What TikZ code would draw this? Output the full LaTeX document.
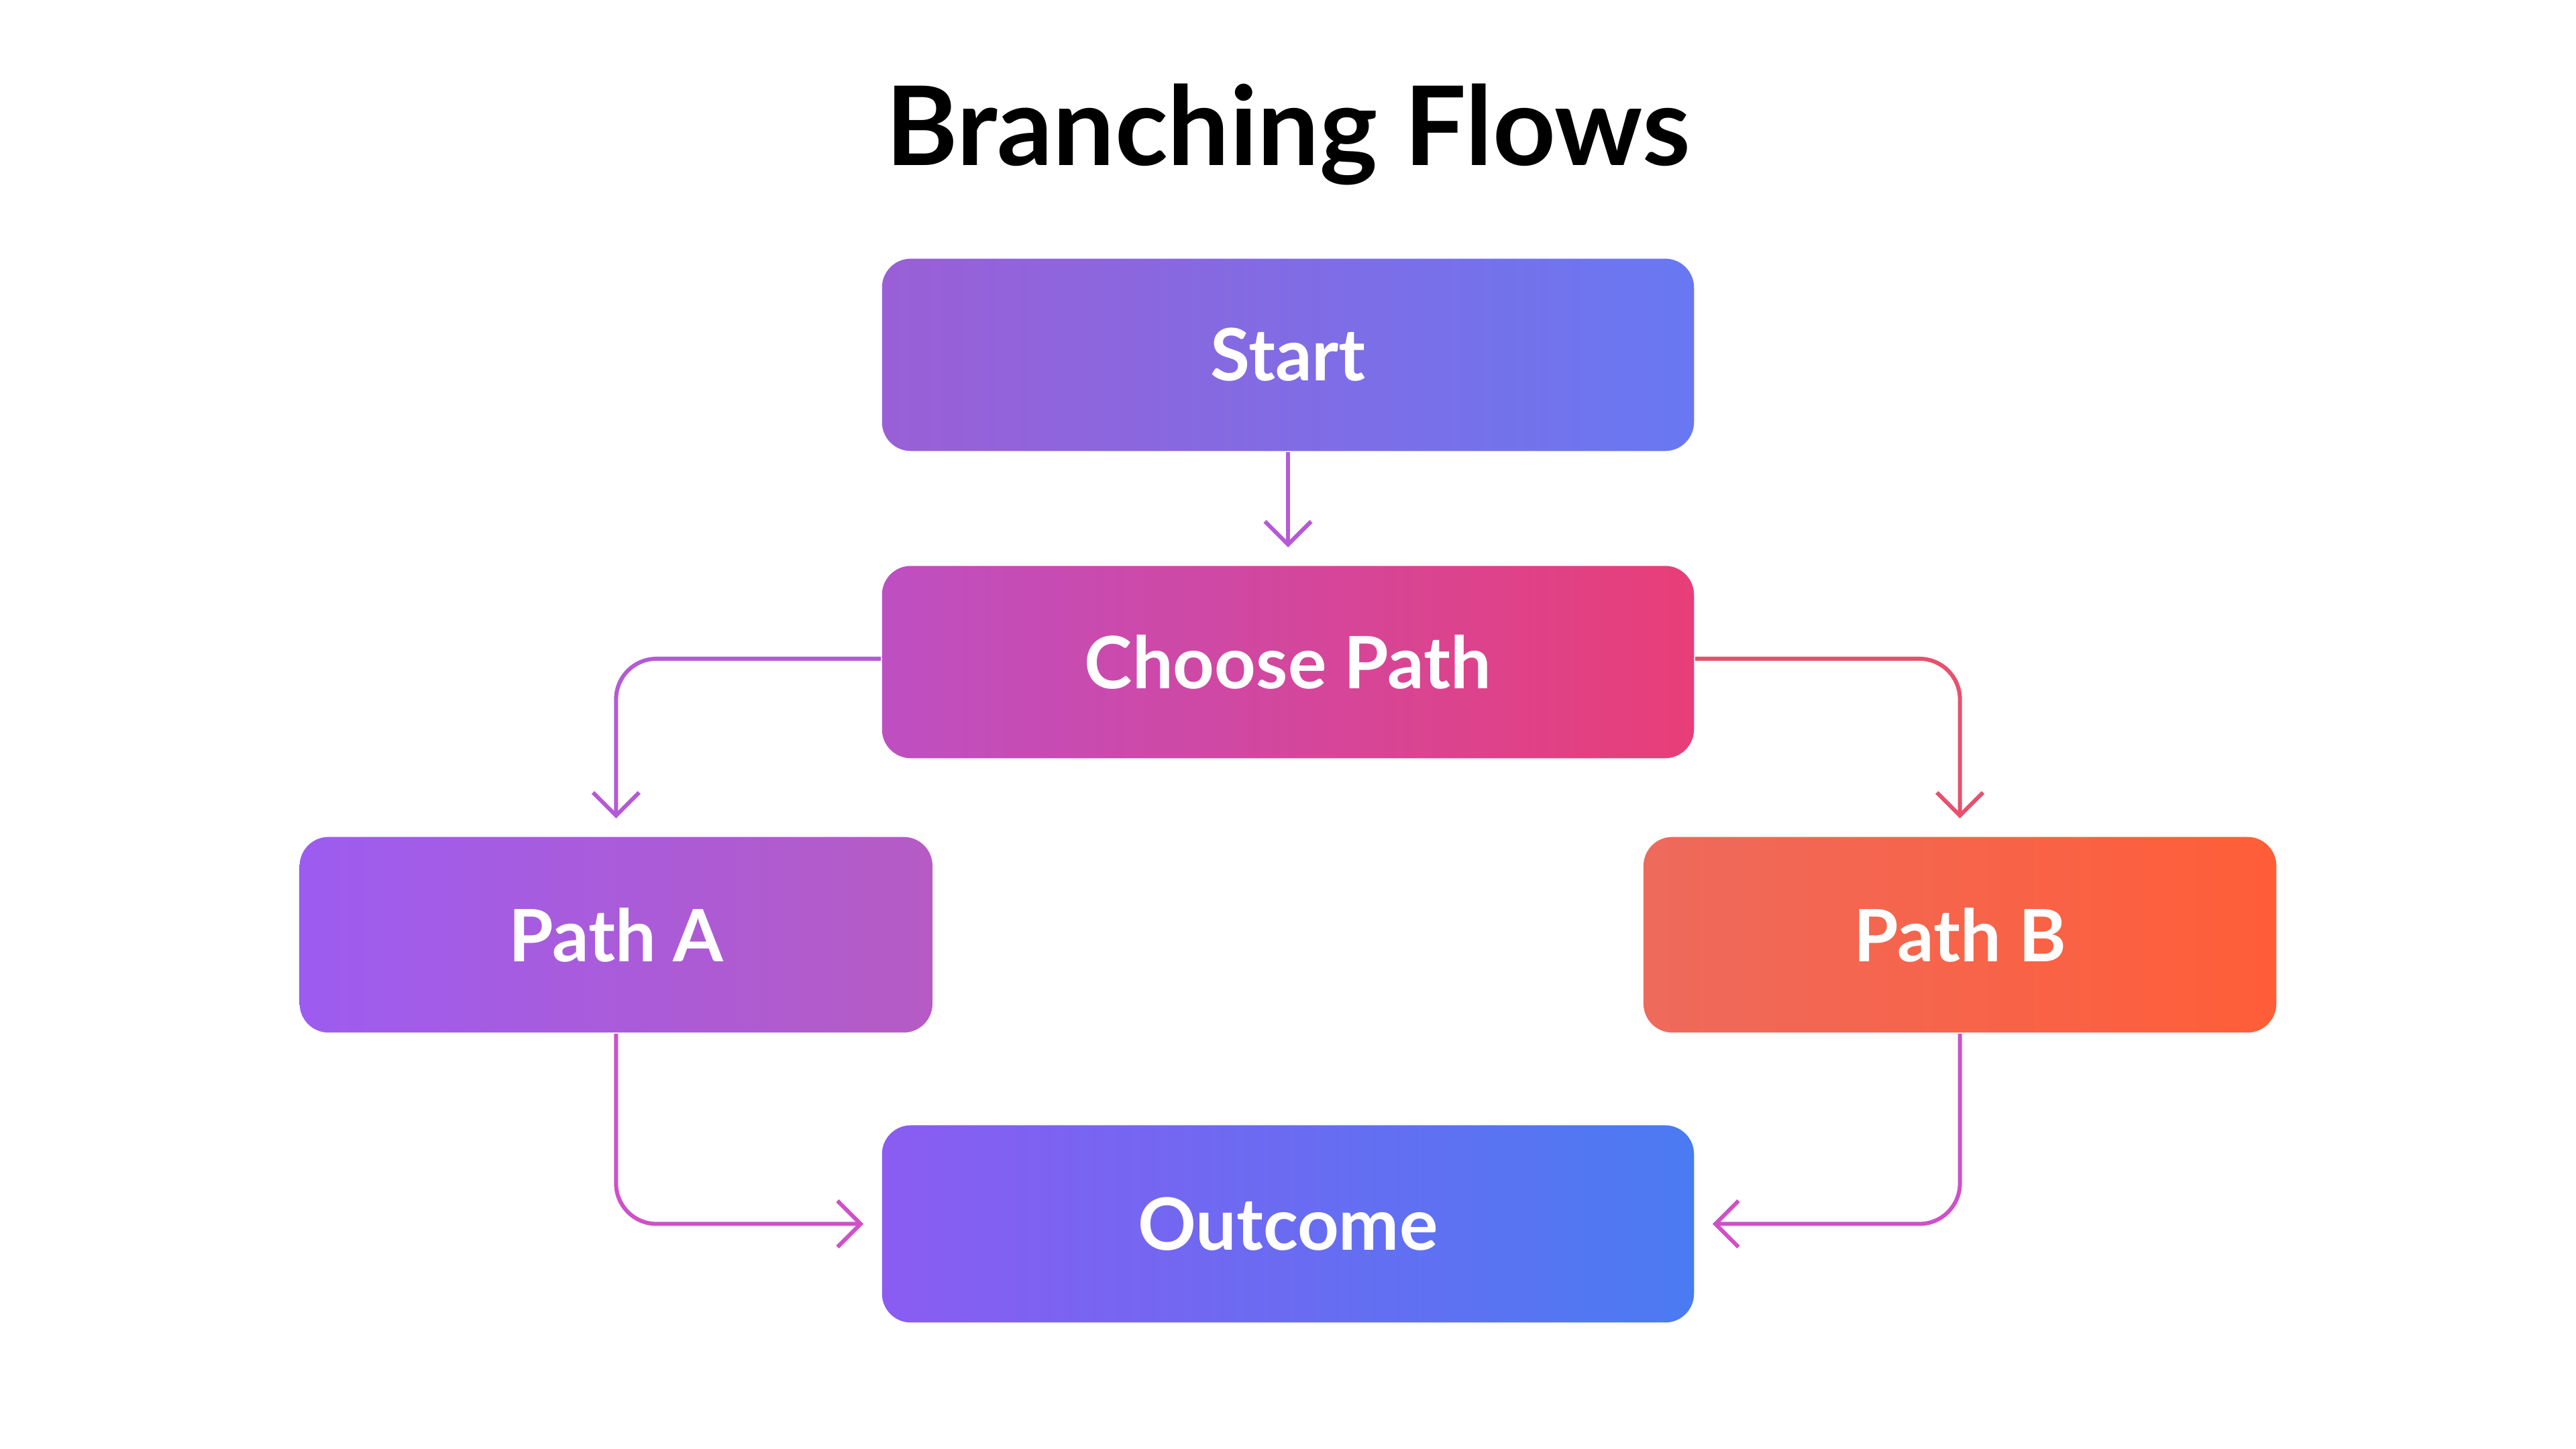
\documentclass[tikz,border=0pt]{standalone}
\usepackage{fontspec}
\setmainfont{Lato}
\usetikzlibrary{positioning,arrows.meta}
\definecolor{startL}{HTML}{9A5FD6}
\definecolor{startR}{HTML}{6878F2}
\definecolor{chooseL}{HTML}{BE4FC2}
\definecolor{chooseR}{HTML}{E83E78}
\definecolor{pathaL}{HTML}{9D5CF0}
\definecolor{pathaR}{HTML}{B65BC4}
\definecolor{pathbL}{HTML}{EE6A5C}
\definecolor{pathbR}{HTML}{FF5E38}
\definecolor{outL}{HTML}{8A5CF2}
\definecolor{outR}{HTML}{4A7BF2}
\definecolor{purpleline}{HTML}{B55AD6}
\definecolor{redline}{HTML}{E8506E}
\definecolor{pinkline}{HTML}{D050C8}
\begin{document}
\begin{tikzpicture}[
  x=0.01cm, y=0.01cm,
  box/.style={rectangle, rounded corners=5pt, minimum width=4.94cm, minimum height=1.17cm,
    text=white, font=\fontsize{12.5}{15}\selectfont\bfseries},
  flow/.style={-{Straight Barb[length=4pt,width=8pt]}, line width=0.7pt, rounded corners=7pt}
]
\useasboundingbox (0,0) rectangle (1568,882);
\fill[white] (0,0) rectangle (1568,882);
\node[font=\fontsize{19}{22}\selectfont\bfseries] (title) at (784,800) {Branching Flows};
\node[box, left color=startL, right color=startR] (start) at (784,666) {Start};
\node[box, left color=chooseL, right color=chooseR] (choose) at (784,479) {Choose Path};
\node[box, minimum width=3.85cm, minimum height=1.19cm, left color=pathaL, right color=pathaR] (patha) at (375,313) {Path A};
\node[box, minimum width=3.85cm, minimum height=1.19cm, left color=pathbL, right color=pathbR] (pathb) at (1193,313) {Path B};
\node[box, minimum height=1.2cm, left color=outL, right color=outR] (outcome) at (784,137) {Outcome};
% connectors
\draw[flow, purpleline, shorten >=3pt] (start) -- (choose);
\draw[flow, purpleline, shorten >=3pt] (choose.west |- 0,481) -| (patha.north);
\draw[flow, redline, shorten >=3pt] (choose.east |- 0,481) -| (pathb.north);
\draw[flow, pinkline, shorten >=3pt] (patha.south) |- (outcome.west |- 0,137);
\draw[flow, pinkline, shorten >=3pt] (pathb.south) |- (outcome.east |- 0,137);
\end{tikzpicture}
\end{document}
